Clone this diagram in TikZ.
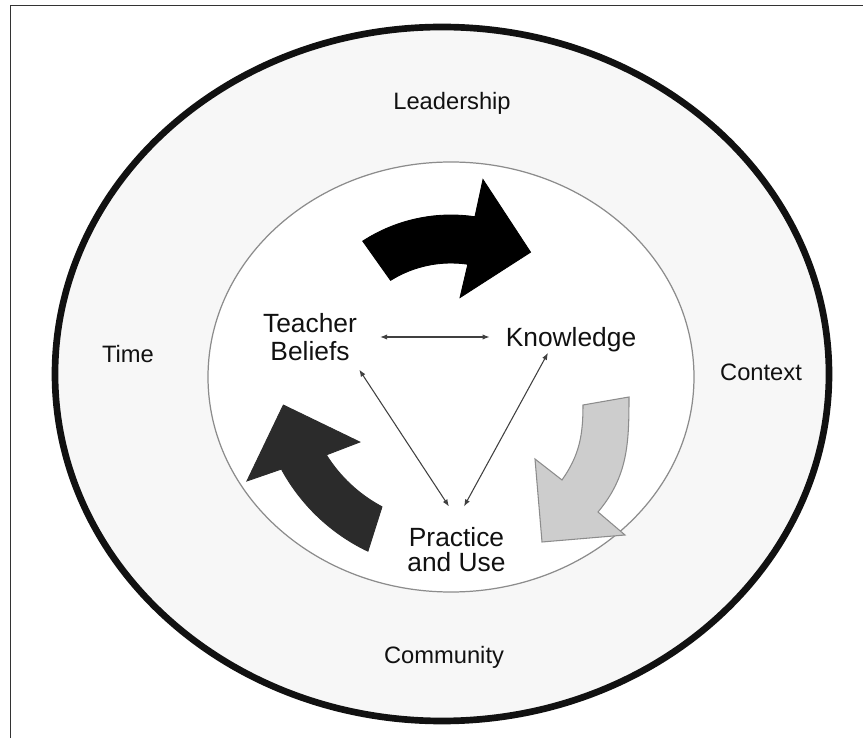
\documentclass[tikz,border=0pt]{standalone}
\usepackage{fontspec}
\setmainfont{Liberation Sans}
\usetikzlibrary{arrows.meta, calc}
\definecolor{cink}{HTML}{111111}
\definecolor{cdark}{HTML}{2B2B2B}
\definecolor{clight}{HTML}{CDCDCD}
\definecolor{cedge}{HTML}{8C8C8C}
\definecolor{cfield}{HTML}{F7F7F7}
\tikzset{
  ring/.style={draw=cink, line width=3.8pt, fill=cfield},
  core/.style={draw=cedge, line width=0.7pt, fill=white},
  factor/.style={font=\fontsize{13.5}{16}\selectfont, text=cink, anchor=base, inner sep=0pt},
  idea/.style={font=\fontsize{15}{#1}\selectfont, text=cink, align=center, inner sep=0pt},
  idea/.default=15.5pt,
  link/.style={{Latex[length=4pt,width=3pt]}-{Latex[length=4pt,width=3pt]}, draw=black!75, line width=0.6pt},
  turn/.style={fill=#1, draw=#1, line width=0.5pt},
}

\begin{document}
\begin{tikzpicture}[x=0.02cm, y=0.02cm]
  \useasboundingbox (0,0) rectangle (863,738);
  \draw[black!80, line width=1.1pt] (10.5,0) -- (10.5,732.5) -- (863,732.5);
  % outer field and inner core
  \draw[ring] (442,364) ellipse [x radius=387, y radius=347];
  \draw[core] (451,361) ellipse [x radius=243, y radius=215];
  % cycle arrows round the core
  \begin{scope}[shift={(451,361)}]
    \filldraw[turn=black] (123:162) arc[start angle=123, end angle=81.5, radius=162] -- (80.8:200) -- (57.5:148) -- (83.5:80) -- (81.5:114) arc[start angle=81.5, end angle=122, radius=114] -- cycle;
    \filldraw[turn=cdark] (244.5:193) arc[start angle=244.5, end angle=208.5, radius=193] -- (207:229) -- (189.5:170) -- (215.5:112) -- (212:147) arc[start angle=212, end angle=242, radius=147] -- cycle;
  \end{scope}
  \filldraw[fill=clight, draw=cedge, line width=0.6pt] (583,333) to[out=-90, in=55] (562,258) -- (535,279) -- (542,196) -- (625,203) -- (598,226) to[out=50, in=-90] (629,341) -- cycle;
  % factors round the ring
  \node[factor] (lead) at (452,628) {Leadership};
  \node[factor] (time) at (128,375) {Time};
  \node[factor] (ctx) at (761,357) {Context};
  \node[factor] (comm) at (444,74) {Community};
  % the three parts of the cycle
  \node[idea] (tb) at (310,401) {Teacher\\Beliefs};
  \node[idea, anchor=base] (kn) at (571,391) {Knowledge};
  \node[idea=14.2pt] (pu) at (456.5,188) {Practice\\and Use};
  \draw[link, shorten <=13pt, shorten >=9pt] (tb.east) -- (tb.east -| kn.west);
  \draw[link] ($(tb.south east)+(2,-9)$) -- ($(pu.north)+(-7.5,21)$);
  \draw[link] ($(kn.south)+(-23,0)$) -- ($(pu.north)+(7.5,21)$);
\end{tikzpicture}
\end{document}
